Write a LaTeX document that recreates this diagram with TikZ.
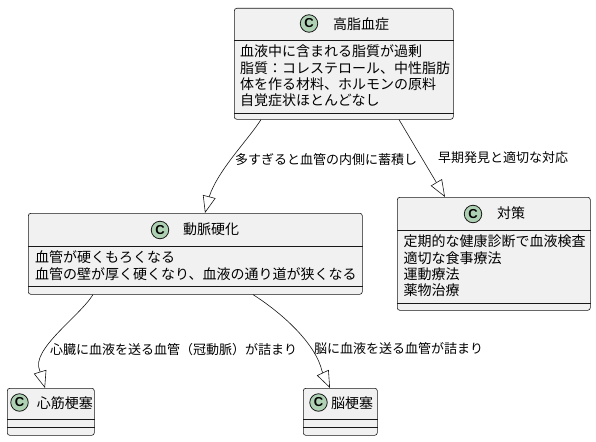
\documentclass[tikz,border=0pt]{standalone}
\usepackage{fontspec}
\setmainfont{Noto Sans CJK JP}
\newfontfamily\cfont{Liberation Sans}
\usetikzlibrary{arrows.meta,calc}
\definecolor{boxfill}{HTML}{F1F1F1}
\definecolor{edgec}{HTML}{181818}
\definecolor{spotc}{HTML}{ADD1B2}
\begin{document}
\begin{tikzpicture}[x=1pt,y=-1pt,
  classbox/.style={draw=edgec, fill=boxfill, rounded corners=2.5pt, line width=0.6pt, inner sep=0pt, anchor=north west},
  sepline/.style={draw=edgec, line width=0.6pt},
  spot/.style={circle, draw=edgec, fill=spotc, line width=0.8pt, minimum size=17.5pt, inner sep=0pt, font=\cfont\bfseries\fontsize{13}{13}\selectfont},
  ctitle/.style={anchor=west, inner sep=0pt, text height=12.3pt, text depth=1.7pt, font=\fontsize{14}{16}\selectfont},
  attr/.style={anchor=west, inner sep=0pt, text height=12.3pt, text depth=1.7pt, font=\fontsize{14}{16}\selectfont},
  elabel/.style={anchor=west, inner sep=0pt, text height=11.4pt, text depth=1.6pt, font=\fontsize{13}{15}\selectfont},
  ext/.style={draw=edgec, line width=0.6pt, -{Triangle[open, length=17pt, width=13pt]}}
]
\fill[white] (0,0) rectangle (596,441);
\useasboundingbox (0,0) rectangle (596,441);

% 高脂血症
\node[classbox, minimum width=219pt, minimum height=111pt] (hl) at (234,8) {};
\draw[sepline] ([yshift=-32pt]hl.north west) -- ([yshift=-32pt]hl.north east);
\draw[sepline] ([yshift=-105pt]hl.north west) -- ([yshift=-105pt]hl.north east);
\node[spot] (hlc) at (309,23.5) {C};
\node[ctitle] (hlt) at (333,24) {高脂血症};
\node[attr] (hla1) at (240,51.5) {血液中に含まれる脂質が過剰};
\node[attr] (hla2) at (240,67.8) {脂質：コレステロール、中性脂肪};
\node[attr] (hla3) at (240,84.1) {体を作る材料、ホルモンの原料};
\node[attr] (hla4) at (240,100.4) {自覚症状ほとんどなし};

% 動脈硬化
\node[classbox, minimum width=334pt, minimum height=81pt] (as) at (28,213) {};
\draw[sepline] ([yshift=-33pt]as.north west) -- ([yshift=-33pt]as.north east);
\draw[sepline] ([yshift=-73pt]as.north west) -- ([yshift=-73pt]as.north east);
\node[spot] (asc) at (160,230) {C};
\node[ctitle] (ast) at (183,229.5) {動脈硬化};
\node[attr] (asa1) at (35,257.5) {血管が硬くもろくなる};
\node[attr] (asa2) at (35,273.8) {血管の壁が厚く硬くなり、血液の通り道が狭くなる};

% 対策
\node[classbox, minimum width=193pt, minimum height=113pt] (ts) at (397,197) {};
\draw[sepline] ([yshift=-33pt]ts.north west) -- ([yshift=-33pt]ts.north east);
\draw[sepline] ([yshift=-106pt]ts.north west) -- ([yshift=-106pt]ts.north east);
\node[spot] (tsc) at (473,214) {C};
\node[ctitle] (tst) at (497,213.5) {対策};
\node[attr] (tsa1) at (403.5,241.5) {定期的な健康診断で血液検査};
\node[attr] (tsa2) at (403.5,257.8) {適切な食事療法};
\node[attr] (tsa3) at (403.5,274.1) {運動療法};
\node[attr] (tsa4) at (403.5,290.4) {薬物治療};

% 心筋梗塞
\node[classbox, minimum width=87pt, minimum height=47pt] (mi) at (7,388) {};
\draw[sepline] ([yshift=-31pt]mi.north west) -- ([yshift=-31pt]mi.north east);
\draw[sepline] ([yshift=-39pt]mi.north west) -- ([yshift=-39pt]mi.north east);
\node[spot] (mic) at (19.5,402.5) {C};
\node[ctitle] (mit) at (36.7,403) {心筋梗塞};

% 脳梗塞
\node[classbox, minimum width=74pt, minimum height=47pt] (ci) at (303,388) {};
\draw[sepline] ([yshift=-31pt]ci.north west) -- ([yshift=-31pt]ci.north east);
\draw[sepline] ([yshift=-39pt]ci.north west) -- ([yshift=-39pt]ci.north east);
\node[spot] (cic) at (318.5,402.5) {C};
\node[ctitle] (cit) at (331,403) {脳梗塞};

% connectors
\draw[ext] ([xshift=27pt]hl.south west) .. controls (248,140) and (218,170) .. (209.2,196.7) -- ([xshift=177pt]as.north west);
\draw[ext] ([xshift=165pt]hl.south west) -- ([xshift=48pt]ts.north west);
\draw[ext] ([xshift=65pt]as.south west) .. controls (80,316) and (30,350) .. (39.7,370.5) -- ([xshift=38pt]mi.north west);
\draw[ext] ([xshift=225pt]as.south west) .. controls (285,315) and (316,345) .. (322,371) -- ([xshift=27pt]ci.north west);

% labels
\node[elabel] (l1) at (235,160) {多すぎると血管の内側に蓄積し};
\node[elabel] (l2) at (438,158) {早期発見と適切な対応};
\node[elabel] (l3) at (50,350) {心臓に血液を送る血管（冠動脈）が詰まり};
\node[elabel] (l4) at (314,349) {脳に血液を送る血管が詰まり};
\end{tikzpicture}
\end{document}
